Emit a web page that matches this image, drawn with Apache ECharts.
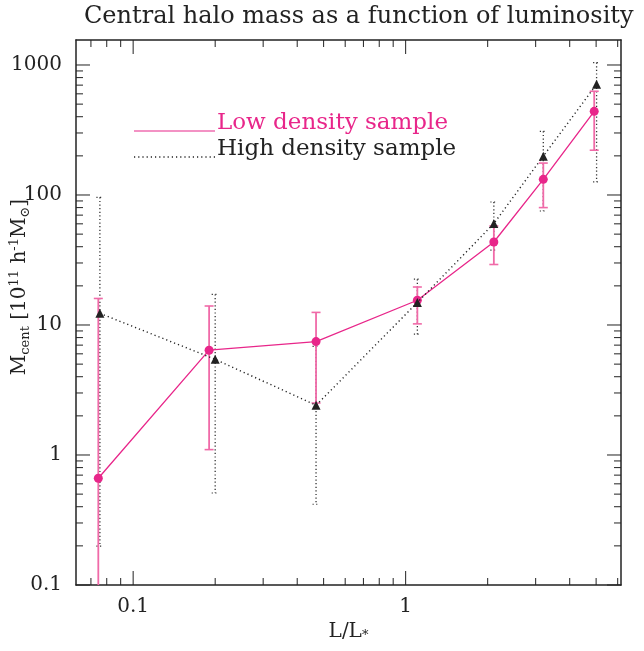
<!DOCTYPE html>
<html><head><meta charset="utf-8">
<script src="https://cdn.jsdelivr.net/npm/echarts@6/dist/echarts.min.js"></script>
<style>html,body{margin:0;padding:0;background:#fff}#c{width:644px;height:651px}</style>
</head><body><div id="c"></div>
<script>
// ---- data ----
const lumLow      = [0.0745, 0.190, 0.469, 1.104, 2.107, 3.20, 4.92];
const massLow     = [0.662, 6.4, 7.45, 15.5, 43.5, 132, 440];
const massLowUp   = [16.0, 14.0, 12.5, 19.6, 57.8, 176, 628];
const massLowDn   = [0.05, 1.1, 2.51, 10.2, 29.2, 80, 221];
const lumHigh     = [0.0755, 0.200, 0.469, 1.104, 2.107, 3.20, 5.02];
const massHigh    = [12.3, 5.45, 2.41, 14.9, 60.3, 199, 711];
const massHighUp  = [96, 17.2, 6.86, 22.5, 88.3, 309, 1043];
const massHighDn  = [0.199, 0.51, 0.418, 8.5, 37.6, 75.3, 126];
const xMajorTicks = [0.1, 1];
const xMinorTicks = [0.07, 0.08, 0.09, 0.2, 0.3, 0.4, 0.5, 0.6, 0.7, 0.8, 0.9, 2, 3, 4, 5, 6];
const yMajorTicks = [0.1, 1, 10, 100, 1000];
const yMinorTicks = [0.2,0.3,0.4,0.5,0.6,0.7,0.8,0.9, 2,3,4,5,6,7,8,9, 20,30,40,50,60,70,80,90, 200,300,400,500,600,700,800,900];
const xRange = [0.0617, 6.17];
const yRange = [0.1, 1557];
const titleText = 'Central halo mass as a function of luminosity';
const legendLow = 'Low density sample';
const legendHigh = 'High density sample';
const yTitle = '{m|M}{sub|cent}{m| [10}{sup|11}{m| h}{sup|-1}{m|M}{sub|⊙}{m|]}';
const xTitle = '{a|L/L}{s|*}';

const FONT = 'DejaVu Serif';
const PINK = '#e8268a';
const PINK_BAR = '#f06aa8';
const DARK = '#222';

function fmt(v){ return String(+Number(v).toPrecision(6)); }

function renderTicks(params, api){
  const cs = params.coordSys;
  const left = cs.x, right = cs.x + cs.width, top = cs.y, bottom = cs.y + cs.height;
  const ch = [];
  const add = (x1,y1,x2,y2) => ch.push({type:'line', shape:{x1,y1,x2,y2}, style:{stroke:DARK, lineWidth:1}});
  const doX = (arr, len) => arr.forEach(v => { const x = api.coord([v, 1])[0]; if (x < left || x > right) return; add(x,bottom,x,bottom-len); add(x,top,x,top+len); });
  const doY = (arr, len) => arr.forEach(v => { const y = api.coord([1, v])[1]; if (y < top || y > bottom) return; add(left,y,left+len,y); add(right,y,right-len,y); });
  doX(xMajorTicks, 14); doX(xMinorTicks, 7);
  doY(yMajorTicks, 14); doY(yMinorTicks, 7);
  return {type:'group', children: ch};
}

function makeErr(color, dashed, width, capW){
  return function(params, api){
    const x = api.value(0), lo = api.value(1), hi = api.value(2);
    const cs = params.coordSys;
    const top = cs.y, bottom = cs.y + cs.height;
    const pHi = api.coord([x, hi]), pLo = api.coord([x, lo]);
    const yHi = Math.max(pHi[1], top), yLo = Math.min(pLo[1], bottom);
    const style = {stroke: color, lineWidth: width, lineDash: dashed ? [1.2, 2.4] : null};
    const ch = [{type:'line', shape:{x1:pHi[0], y1:yHi, x2:pHi[0], y2:yLo}, style}];
    const capStyle = {stroke: color, lineWidth: dashed ? 1.2 : 1.6, lineDash: dashed ? [1.2, 2.4] : null};
    if (pHi[1] >= top) ch.push({type:'line', shape:{x1:pHi[0]-capW, y1:yHi, x2:pHi[0]+capW, y2:yHi}, style:capStyle});
    if (pLo[1] <= bottom) ch.push({type:'line', shape:{x1:pLo[0]-capW, y1:yLo, x2:pLo[0]+capW, y2:yLo}, style:capStyle});
    return {type:'group', children: ch};
  };
}

const chart = echarts.init(document.getElementById('c'), null, {renderer:'canvas'});
const axisCommon = {
  type:'log', logBase:10,
  axisLine:{show:true, onZero:false, lineStyle:{color:DARK, width:1.5}},
  axisTick:{show:false}, splitLine:{show:false}, minorTick:{show:false}
};
chart.setOption({
  animation:false,
  backgroundColor:'#fff',
  title:{text:titleText, left:79, top:0, textStyle:{fontFamily:FONT, fontSize:24, fontWeight:'normal', color:DARK}},
  grid:{left:76, right:23, top:40, bottom:66, containLabel:false, outerBoundsMode:'none'},
  xAxis:[
    Object.assign({}, axisCommon, {min:xRange[0], max:xRange[1], position:'bottom',
      axisLabel:{show:true, margin:12, formatter:fmt, showMinLabel:false, showMaxLabel:false, fontFamily:FONT, fontSize:20, color:DARK},
      name:xTitle, nameLocation:'middle', nameGap:36,
      nameTextStyle:{rich:{a:{fontFamily:FONT, fontSize:20, color:DARK, verticalAlign:'bottom'}, s:{fontFamily:FONT, fontSize:13, color:DARK, verticalAlign:'bottom'}}}}),
    Object.assign({}, axisCommon, {min:xRange[0], max:xRange[1], position:'top', axisLabel:{show:false}})
  ],
  yAxis:[
    Object.assign({}, axisCommon, {min:yRange[0], max:yRange[1], position:'left',
      axisLabel:{show:true, margin:14, formatter:fmt, showMinLabel:true, showMaxLabel:false, fontFamily:FONT, fontSize:20, color:DARK}}),
    Object.assign({}, axisCommon, {min:yRange[0], max:yRange[1], position:'right', axisLabel:{show:false}})
  ],
  graphic:[
    {type:'text', x:20, y:287, rotation:Math.PI/2, style:{text:yTitle, align:'center', verticalAlign:'middle',
      rich:{
        m:{fontFamily:FONT, fontSize:20, fill:DARK, lineHeight:30, verticalAlign:'middle'},
        sub:{fontFamily:FONT, fontSize:13, fill:DARK, lineHeight:30, verticalAlign:'bottom', padding:[0,0,3,0]},
        sup:{fontFamily:FONT, fontSize:13, fill:DARK, lineHeight:30, verticalAlign:'top', padding:[3,0,0,0]}
      }}},
    {type:'line', shape:{x1:134, y1:131, x2:215, y2:131}, style:{stroke:PINK, lineWidth:1.2}},
    {type:'text', x:217, y:123, style:{text:legendLow, fontFamily:FONT, fontSize:23, fill:PINK, verticalAlign:'middle', align:'left'}},
    {type:'line', shape:{x1:134, y1:157, x2:215, y2:157}, style:{stroke:DARK, lineWidth:1.3, lineDash:[1.2,3]}},
    {type:'text', x:217, y:149, style:{text:legendHigh, fontFamily:FONT, fontSize:23, fill:DARK, verticalAlign:'middle', align:'left'}}
  ],
  series:[
    {type:'custom', name:'ticks', renderItem:renderTicks, data:[[1,1]], silent:true, z:10},
    {type:'custom', name:'errHigh', renderItem:makeErr('#333', true, 1.3, 3.5),
      data: lumHigh.map((x,i)=>[x, massHighDn[i], massHighUp[i]]), z:2},
    {type:'custom', name:'errLow', renderItem:makeErr(PINK_BAR, false, 1.8, 4.5),
      data: lumLow.map((x,i)=>[x, massLowDn[i], massLowUp[i]]), z:3},
    {type:'line', name:'Low', data: lumLow.map((x,i)=>[x, massLow[i]]), symbol:'circle', symbolSize:9,
      lineStyle:{color:PINK, width:1.3}, itemStyle:{color:PINK}, z:4},
    {type:'line', name:'High', data: lumHigh.map((x,i)=>[x, massHigh[i]]), symbol:'triangle', symbolSize:9,
      lineStyle:{color:DARK, width:1.4, type:[1.2,3]}, itemStyle:{color:DARK}, z:5}
  ]
});
</script></body></html>
